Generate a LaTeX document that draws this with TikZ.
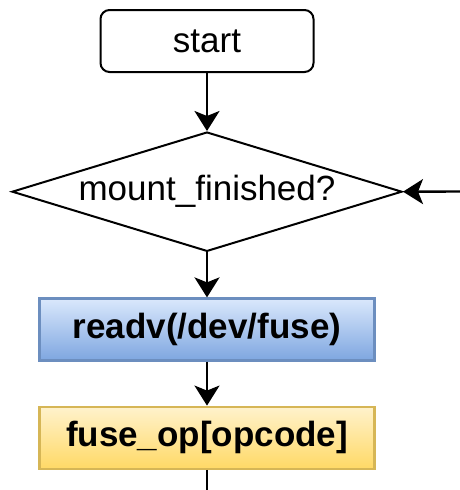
\documentclass[tikz,border=0pt]{standalone}
\usepackage{fontspec}
\setmainfont{Liberation Sans}
\usetikzlibrary{shapes.geometric, positioning, arrows.meta}
\definecolor{blueTop}{HTML}{DAE8FC}
\definecolor{blueBot}{HTML}{7EA6E0}
\definecolor{blueLine}{HTML}{6C8EBF}
\definecolor{yellowTop}{HTML}{FFF2CC}
\definecolor{yellowBot}{HTML}{FFD966}
\definecolor{yellowLine}{HTML}{D6B656}
\tikzset{
  >={Stealth[length=20pt,width=25pt,inset=5pt]},
  every node/.style={font=\fontsize{35}{40}\selectfont},
  flow/.style={->, line width=2.4pt},
  terminal/.style={draw, line width=2pt, rounded corners=9pt,
    minimum width=213pt, minimum height=62pt},
  decision/.style={draw, diamond, line width=2pt, inner sep=0pt,
    shape aspect=2.95, minimum width=390pt},
  process/.style={draw, line width=2.2pt, minimum width=335pt,
    minimum height=62pt, font=\fontsize{35}{40}\selectfont\bfseries},
  blueproc/.style={process, draw=blueLine, top color=blueTop, bottom color=blueBot},
  yellowproc/.style={process, draw=yellowLine, top color=yellowTop, bottom color=yellowBot},
}
\begin{document}
\begin{tikzpicture}
  \useasboundingbox (0pt,0pt) rectangle (460pt,-490pt);
  \node[terminal] (start) at (207pt,-41pt) {start};
  \node[decision, below=58pt of start] (mount) {mount\_finished?};
  \node[blueproc, below=45pt of mount] (readv) {readv(/dev/fuse)};
  \node[yellowproc, below=44pt of readv] (fuseop) {fuse\_op[opcode]};
  \coordinate (loopin) at (460pt,-191.5pt);
  \coordinate (exit) at (207pt,-490pt);

  \draw[flow] (start) -- (mount);
  \draw[flow] (mount) -- (readv);
  \draw[flow] (readv) -- (fuseop);
  \draw[flow] (loopin) -- (mount.east);
  \draw[line width=2.4pt] (fuseop) -- (exit);
\end{tikzpicture}
\end{document}
